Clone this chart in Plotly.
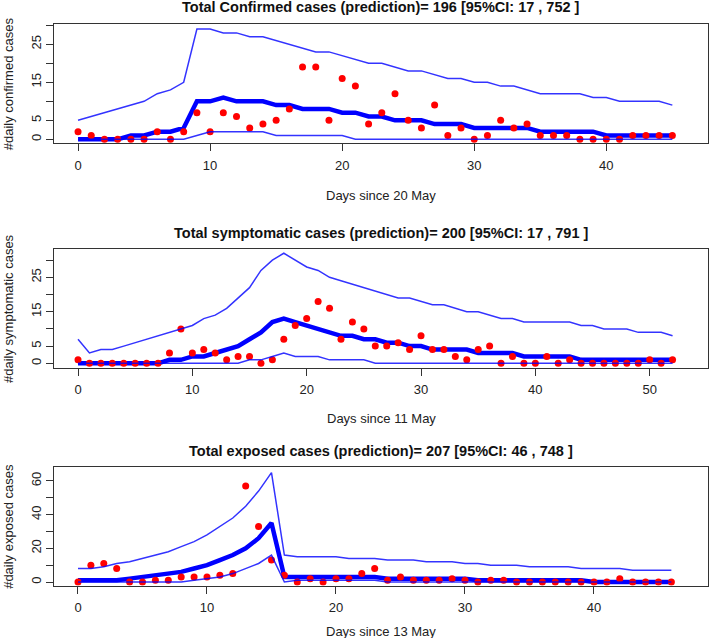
import plotly.graph_objects as go

# ---------------- data ----------------
conf_days = list(range(0, 46))
conf_obs = [2, 1, 0, 0, 0, 0, 2, 0, 2, 7, 2, 7, 6, 3, 4, 5, 8, 19, 19, 5, 16, 14, 4, 7, 12, 5,
            3, 9, 1, 3, 0, 1, 5, 3, 4, 1, 1, 1, 0, 0, 0, 0, 1, 1, 1, 1]
conf_med = [0, 0, 0, 0, 1, 1, 2, 2, 3, 10, 10, 11, 10, 10, 10, 9, 9, 8, 8, 8, 7, 7, 6, 6, 5, 5,
            5, 4, 4, 4, 3, 3, 3, 3, 3, 2, 2, 2, 2, 2, 1, 1, 1, 1, 1, 1]
conf_up = [5, 6, 7, 8, 9, 10, 12, 13, 15, 29, 29, 28, 28, 27, 27, 26, 25, 24, 23, 23, 22, 21, 20,
           20, 19, 18, 18, 17, 16, 16, 15, 15, 14, 14, 13, 12, 12, 12, 12, 11, 11, 10, 10, 10, 10, 9]
conf_lo = [0, 0, 0, 0, 0, 0, 0, 0, 0, 1, 2, 2, 2, 2, 2, 1, 1, 1, 1, 1, 1, 0, 0, 0, 0, 0,
           0, 0, 0, 0, 0, 0, 0, 0, 0, 0, 0, 0, 0, 0, 0, 0, 0, 0, 0, 0]

symp_days = list(range(0, 53))
symp_obs = [1, 0, 0, 0, 0, 0, 0, 0, 3, 10, 3, 4, 3, 1, 2, 2, 0, 1, 7, 11, 13, 18, 16, 7, 12, 10,
            5, 5, 6, 4, 8, 4, 4, 2, 1, 4, 5, 0, 2, 0, 0, 2, 0, 1, 0, 0, 0, 0, 0, 0, 1, 0, 1]
symp_med = [0, 0, 0, 0, 0, 0, 0, 0, 1, 1, 2, 2, 3, 4, 5, 7, 9, 12, 13, 12, 11, 10, 9, 8, 8, 7,
            7, 6, 6, 5, 5, 4, 4, 4, 4, 3, 3, 3, 3, 2, 2, 2, 2, 2, 1, 1, 1, 1, 1, 1, 1, 1, 1]
symp_up = [7, 3, 4, 4, 5, 6, 7, 8, 9, 10, 11, 13, 14, 16, 19, 22, 27, 30, 32, 30, 28, 27, 25, 24,
           23, 22, 21, 20, 19, 19, 18, 17, 17, 16, 15, 15, 14, 13, 13, 12, 12, 12, 12, 12, 11, 11,
           10, 10, 10, 9, 9, 9, 8]
symp_lo = [0, 0, 0, 0, 0, 0, 0, 0, 0, 0, 0, 0, 0, 0, 0, 1, 1, 2, 3, 2, 2, 2, 1, 1, 1, 1,
           0, 0, 0, 0, 0, 0, 0, 0, 0, 0, 0, 0, 0, 0, 0, 0, 0, 0, 0, 0, 0, 0, 0, 0, 0, 0, 0]

exp_days = list(range(0, 47))
exp_obs = [0, 10, 11, 8, 0, 0, 1, 1, 3, 3, 3, 4, 5, 57, 33, 13, 4, 0, 2, 0, 2, 2, 5, 8, 1, 3,
           1, 1, 1, 2, 1, 0, 1, 1, 0, 0, 0, 0, 0, 0, 0, 0, 2, 0, 0, 0, 0]
exp_med = [1, 1, 1, 1, 2, 3, 4, 5, 6, 8, 10, 13, 16, 20, 26, 35, 3, 3, 3, 3, 3, 3, 3, 3, 2, 2,
           2, 2, 2, 2, 2, 1, 1, 1, 1, 1, 1, 1, 1, 1, 0, 0, 0, 0, 0, 0, 0]
exp_up = [8, 8, 9, 11, 12, 14, 16, 18, 21, 24, 28, 33, 38, 45, 54, 65, 16, 15, 15, 15, 15, 14,
          14, 14, 13, 13, 13, 12, 12, 12, 11, 11, 10, 10, 10, 9, 9, 9, 9, 8, 8, 8, 8, 7, 7, 7, 7]
exp_lo = [0, 0, 0, 0, 0, 0, 0, 0, 0, 1, 2, 3, 5, 8, 11, 16, 0, 1, 1, 1, 1, 1, 1, 1, 0, 0,
          0, 0, 0, 0, 0, 0, 0, 0, 0, 0, 0, 0, 0, 0, 0, 0, 0, 0, 0, 0, 0]

titles = ["Total Confirmed cases (prediction)= 196 [95%CI: 17 , 752 ]",
          "Total symptomatic cases (prediction)= 200 [95%CI: 17 , 791 ]",
          "Total exposed cases (prediction)= 207 [95%CI: 46 , 748 ]"]
x_titles = ["Days since 20 May", "Days since 11 May", "Days since 13 May"]
y_titles = ["#daily confirmed cases", "#daily symptomatic cases", "#daily exposed cases"]

conf_yticks = [0, 5, 10, 15, 20, 25, 30]
conf_ylabels = ["0", "5", "", "15", "", "25", ""]
symp_yticks = [0, 5, 10, 15, 20, 25, 30]
symp_ylabels = ["0", "5", "", "15", "", "25", ""]
exp_yticks = [0, 10, 20, 30, 40, 50, 60]
exp_ylabels = ["0", "", "20", "", "40", "", "60"]
conf_xticks = [0, 10, 20, 30, 40]
symp_xticks = [0, 10, 20, 30, 40, 50]
exp_xticks = [0, 10, 20, 30, 40]

# ---------------- layout geometry (pixels) ----------------
W, H = 709, 638
BOX_L, BOX_R = 54, 708


def fx(p):
    return p / W


def fy(p):
    return 1 - p / H


panels = [
    dict(days=conf_days, obs=conf_obs, med=conf_med, up=conf_up, lo=conf_lo,
         top=24.3, bot=143.3, xr=[-1.82, 47.7], yr=[-1.05, 30.26],
         yt=conf_yticks, yl=conf_ylabels, xt=conf_xticks,
         title_y=6.5, xt_y=194, ),
    dict(days=symp_days, obs=symp_obs, med=symp_med, up=symp_up, lo=symp_lo,
         top=249.3, bot=367.7, xr=[-2.1, 55.1], yr=[-1.28, 33.15],
         yt=symp_yticks, yl=symp_ylabels, xt=symp_xticks,
         title_y=232, xt_y=417),
    dict(days=exp_days, obs=exp_obs, med=exp_med, up=exp_up, lo=exp_lo,
         top=467, bot=585.7, xr=[-1.86, 48.84], yr=[-2.2, 68.3],
         yt=exp_yticks, yl=exp_ylabels, xt=exp_xticks,
         title_y=450, xt_y=630),
]

NARROW = "Liberation Sans Narrow, Arial Narrow, Liberation Sans, Arial, sans-serif"
REG = "Liberation Sans, Arial, sans-serif"

fig = go.Figure()
annotations = []
layout_axes = {}

for i, p in enumerate(panels):
    k = "" if i == 0 else str(i + 1)
    xa, ya = "x" + k, "y" + k
    fig.add_trace(go.Scatter(x=p["days"], y=p["med"], mode="lines", xaxis=xa, yaxis=ya,
                             line=dict(color="#0000ff", width=4.5), showlegend=False,
                             hoverinfo="skip"))
    fig.add_trace(go.Scatter(x=p["days"], y=p["obs"], mode="markers", xaxis=xa, yaxis=ya,
                             marker=dict(color="#ff0000", size=7, line=dict(width=0)),
                             showlegend=False))
    for s in ("up", "lo"):
        fig.add_trace(go.Scatter(x=p["days"], y=p[s], mode="lines", xaxis=xa, yaxis=ya,
                                 line=dict(color="rgba(0,0,255,0.8)", width=1.5),
                                 showlegend=False, hoverinfo="skip"))
    layout_axes["xaxis" + k] = dict(
        domain=[fx(BOX_L), fx(BOX_R)], anchor=ya, range=p["xr"],
        tickmode="array", tickvals=p["xt"], ticktext=[str(v) for v in p["xt"]],
        showline=True, mirror=True, linecolor="#333333", linewidth=1,
        ticks="outside", ticklen=7, tickcolor="#333333", tickwidth=1,
        showgrid=False, zeroline=False, ticklabelstandoff=3,
        tickfont=dict(family=NARROW, size=13, color="#222222"),
    )
    layout_axes["yaxis" + k] = dict(
        domain=[fy(p["bot"]), fy(p["top"])], anchor=xa, range=p["yr"],
        tickmode="array", tickvals=p["yt"], ticktext=p["yl"], tickangle=-90,
        showline=True, mirror=True, linecolor="#333333", linewidth=1,
        ticks="outside", ticklen=7, tickcolor="#333333", tickwidth=1,
        showgrid=False, zeroline=False,
        tickfont=dict(family=NARROW, size=13, color="#222222"),
    )
    annotations.append(dict(text="<b>" + titles[i] + "</b>", xref="paper", yref="paper",
                            x=fx((BOX_L + BOX_R) / 2), y=fy(p["title_y"] + 1),
                            xanchor="center", yanchor="middle", showarrow=False,
                            font=dict(family=REG, size=14.5, color="#111111")))
    annotations.append(dict(text=x_titles[i], xref="paper", yref="paper",
                            x=fx((BOX_L + BOX_R) / 2), y=fy(p["xt_y"] + 1),
                            xanchor="center", yanchor="middle", showarrow=False,
                            font=dict(family=REG, size=13, color="#222222")))
    annotations.append(dict(text=y_titles[i], xref="paper", yref="paper",
                            x=fx(8.5), y=fy((p["top"] + p["bot"]) / 2),
                            xanchor="center", yanchor="middle", textangle=-90,
                            showarrow=False,
                            font=dict(family=NARROW, size=13, color="#222222")))

fig.update_layout(width=W, height=H, margin=dict(l=0, r=0, t=0, b=0),
                  paper_bgcolor="white", plot_bgcolor="white",
                  annotations=annotations, **layout_axes)

# remove the browser's default 8px page margin so the figure fills the window
fig.write_html("out.html", config={"displayModeBar": False},
               post_script="document.body.style.margin='0';document.body.style.overflow='hidden';")
